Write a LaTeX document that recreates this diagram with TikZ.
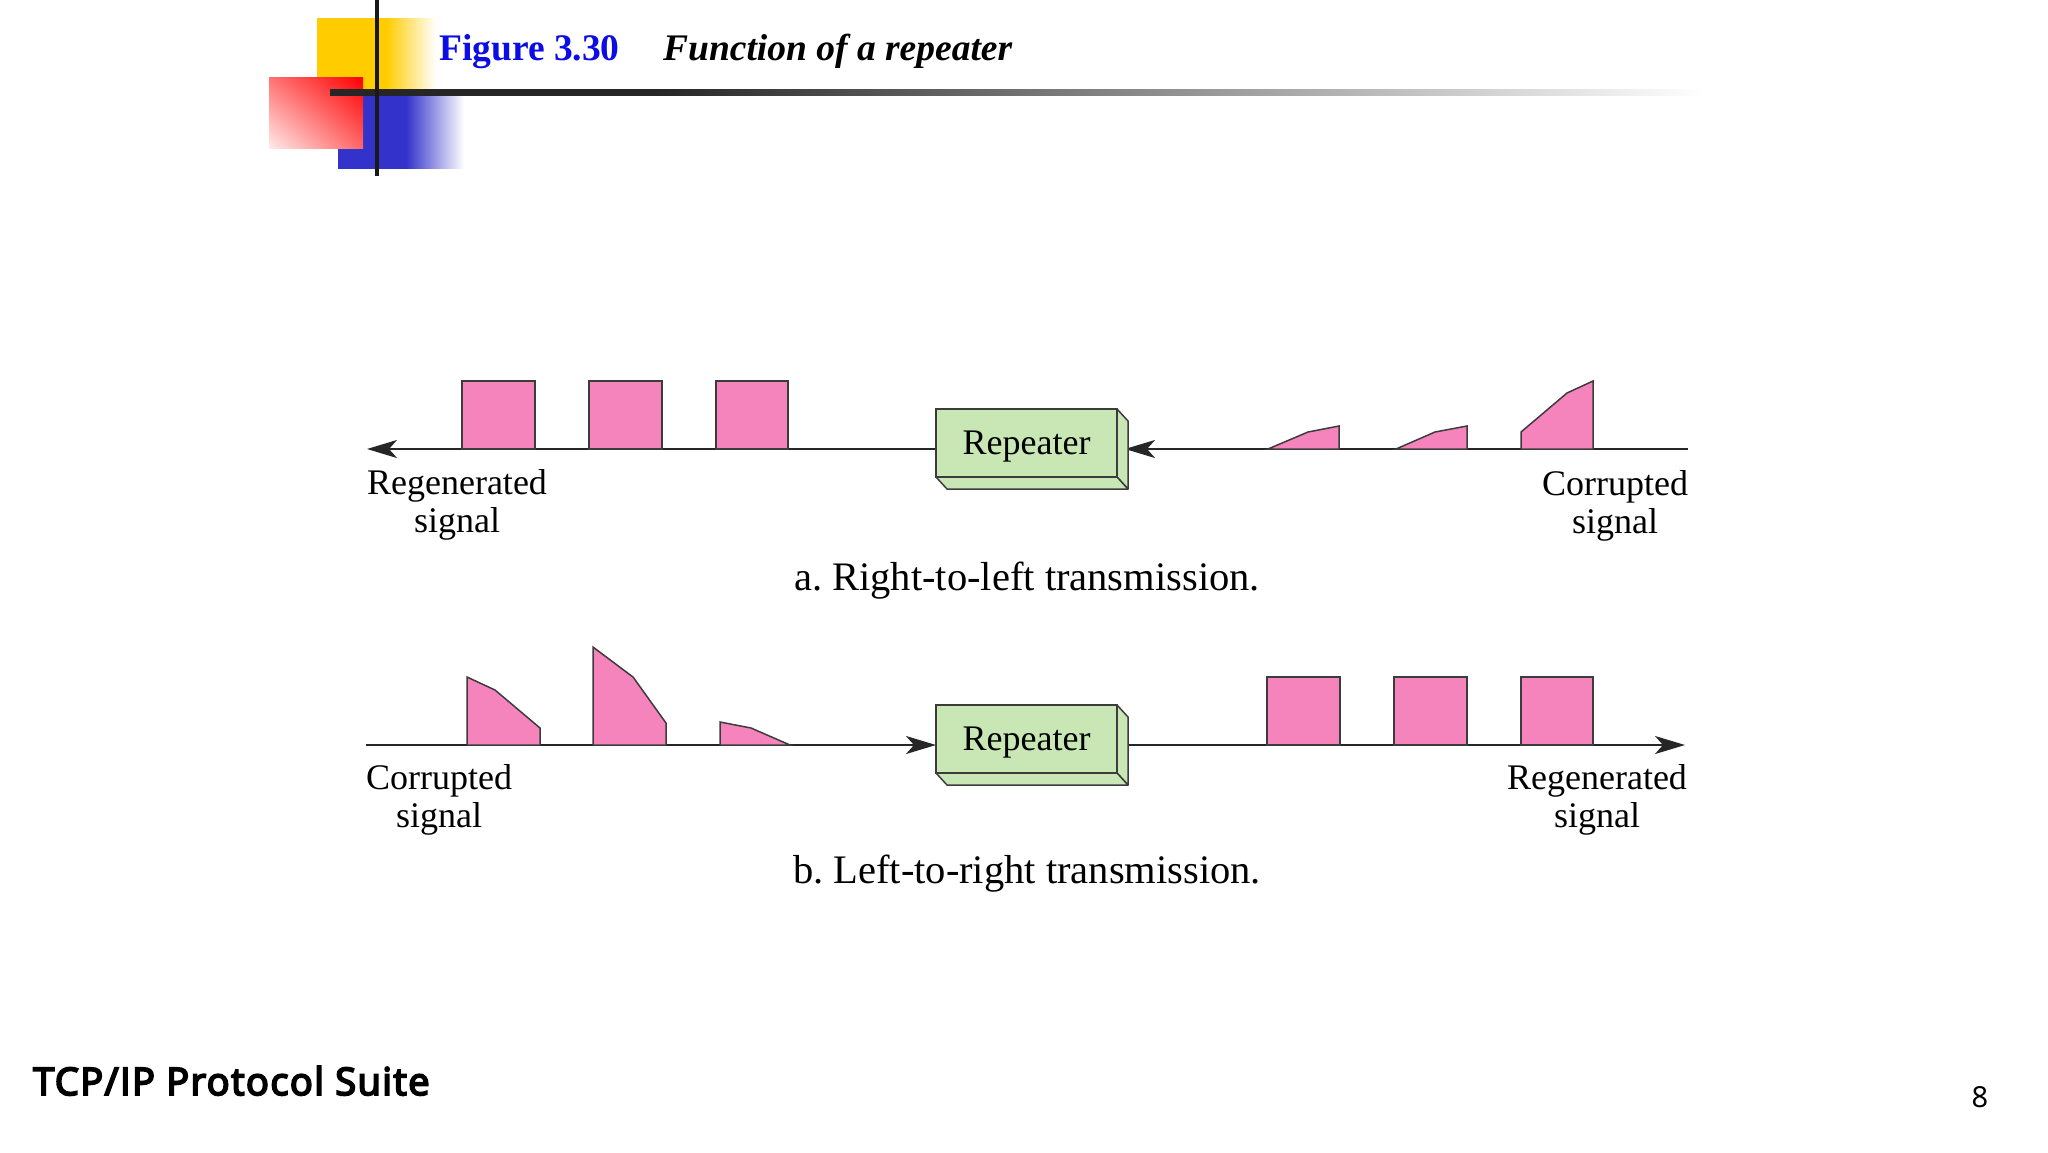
\documentclass[tikz,border=0pt]{standalone}
\usepackage{fontspec}
\setmainfont{Liberation Serif}
\newfontfamily\footerfont{Open Sans}[AutoFakeBold=5,LetterSpace=3.8]
\newfontfamily\pagefont{Noto Sans}
\usetikzlibrary{arrows.meta,shadings}
\definecolor{pulsepink}{RGB}{246,132,188}
\definecolor{repgreen}{RGB}{200,231,181}
\definecolor{edgegray}{RGB}{60,60,60}
\definecolor{tmplyellow}{RGB}{255,204,0}
\definecolor{tmplblue}{RGB}{51,51,204}
\definecolor{titleblue}{RGB}{12,12,230}
\pgfdeclarehorizontalshading{hlinefade}{100bp}{color(0bp)=(black!85); color(37bp)=(black!85); color(75bp)=(white); color(100bp)=(white)}
\pgfdeclarehorizontalshading{yellowfade}{100bp}{color(0bp)=(tmplyellow); color(54bp)=(tmplyellow); color(75bp)=(white); color(100bp)=(white)}
\pgfdeclarehorizontalshading{bluefade}{100bp}{color(0bp)=(tmplblue); color(52bp)=(tmplblue); color(75bp)=(white); color(100bp)=(white)}
\frenchspacing
\begin{document}
\begin{tikzpicture}[x=1pt,y=-1pt,
  sigline/.style={line width=2pt, draw=black!85},
  pulseshape/.style={fill=pulsepink, draw=edgegray, line width=1.5pt, line join=miter},
  repbox/.style={draw=edgegray, fill=repgreen, line width=1.5pt, minimum width=181pt, minimum height=68pt, inner sep=0pt, outer sep=0pt},
  reptext/.style={inner sep=0pt, font=\fontsize{36}{38}\selectfont},
  repface/.style={draw=edgegray, fill=repgreen, line width=1.5pt, line join=round},
  sublabel/.style={align=center, inner sep=0pt, font=\fontsize{36}{38}\selectfont},
  captext/.style={inner sep=0pt, font=\fontsize{40.5}{42}\selectfont},
  arrowend/.style={-{Stealth[length=30pt,width=18pt,inset=8pt]}}
]
\useasboundingbox (0,0) rectangle (2048,1152);
\fill[white] (0,0) rectangle (2048,1152);

% ---- template header ----
\shade[shading=yellowfade] (317,18) rectangle (436,92);
\shade[shading=bluefade] (338,95) rectangle (464,168);
\shade[upper right=red, upper left=red!55!white, lower right=red!60!white, lower left=red!8!white] (269,77) rectangle (363,148);
\shade[shading=hlinefade] (330,89) rectangle (1704,95);
\fill[black!90] (375,0) rectangle (379,176);

\node[anchor=base west, inner sep=0pt, text=titleblue, font=\fontsize{37.5}{40}\selectfont\bfseries] (figno) at (439,60) {Figure 3.30};
\node[anchor=base west, inner sep=0pt, font=\fontsize{37.5}{40}\selectfont\bfseries\itshape] (figtitle) at (663,60) {Function of a repeater};

% ---- a. right-to-left ----
\coordinate (a-left) at (367,449);
\coordinate (a-right) at (1688,449);
\node[repbox] (rep1) at (1026.5,443) {};
\coordinate (rep1side) at ([xshift=8pt]rep1.east);
\draw[sigline, arrowend] (a-left -| rep1.west) -- (a-left);
\draw[sigline, arrowend] (a-right) -- (a-right -| rep1side);
\filldraw[repface] (rep1.north east) -- ++(11,12) -- ++(0,68) -- (rep1.south east) -- cycle;
\filldraw[repface] (rep1.south west) -- ++(11,12) -- ++(181,0) -- (rep1.south east) -- cycle;
\node[repbox] (rep1f) at (1026.5,443) {};
\node[reptext, anchor=base] (rep1t) at ([yshift=-11pt]rep1f.center) {Repeater};

\filldraw[pulseshape] (462,381) rectangle (535,449);
\filldraw[pulseshape] (589,381) rectangle (662,449);
\filldraw[pulseshape] (716,381) rectangle (788,449);

\filldraw[pulseshape] (1268,449) -- (1308,432) -- (1339,426) -- (1339,449) -- cycle;
\filldraw[pulseshape] (1396,449) -- (1435,432) -- (1467,426) -- (1467,449) -- cycle;
\filldraw[pulseshape] (1521,449) -- (1521,432) -- (1567,393) -- (1593,381) -- (1593,449) -- cycle;

\node[sublabel, anchor=north] (regenA) at (457,469) {Regenerated\\signal};
\node[sublabel, anchor=north] (corrA) at (1615,470) {Corrupted\\signal};
\node[captext, anchor=base] (capA) at (1027,590) {a. Right-to-left transmission.};

% ---- b. left-to-right ----
\coordinate (b-left) at (366,745);
\coordinate (b-right) at (1685,745);
\node[repbox] (rep2) at (1026.5,739) {};
\coordinate (rep2side) at ([xshift=11pt]rep2.east);
\draw[sigline, arrowend] (b-left) -- (b-left -| rep2.west);
\draw[sigline, arrowend] (b-left -| rep2side) -- (b-right);
\filldraw[repface] (rep2.north east) -- ++(11,12) -- ++(0,68) -- (rep2.south east) -- cycle;
\filldraw[repface] (rep2.south west) -- ++(11,12) -- ++(181,0) -- (rep2.south east) -- cycle;
\node[repbox] (rep2f) at (1026.5,739) {};
\node[reptext, anchor=base] (rep2t) at ([yshift=-11pt]rep2f.center) {Repeater};

\filldraw[pulseshape] (467,745) -- (467,677) -- (495,690) -- (540,728) -- (540,745) -- cycle;
\filldraw[pulseshape] (593,745) -- (593,647) -- (633,677) -- (666,723) -- (666,745) -- cycle;
\filldraw[pulseshape] (720,745) -- (720,722) -- (751,728) -- (790,745) -- cycle;

\filldraw[pulseshape] (1267,677) rectangle (1340,745);
\filldraw[pulseshape] (1394,677) rectangle (1467,745);
\filldraw[pulseshape] (1521,677) rectangle (1593,745);

\node[sublabel, anchor=north] (corrB) at (439,764) {Corrupted\\signal};
\node[sublabel, anchor=north] (regenB) at (1597,764) {Regenerated\\signal};
\node[captext, anchor=base] (capB) at (1027,883) {b. Left-to-right transmission.};

% ---- footer ----
\node[anchor=base west, inner sep=0pt, font=\footerfont\fontsize{38}{40}\selectfont\bfseries] (footer) at (33,1095) {TCP/IP Protocol Suite};
\node[anchor=base, inner sep=0pt, font=\pagefont\fontsize{29}{30}\selectfont] (pagenum) at (1980,1107) {8};
\end{tikzpicture}
\end{document}
